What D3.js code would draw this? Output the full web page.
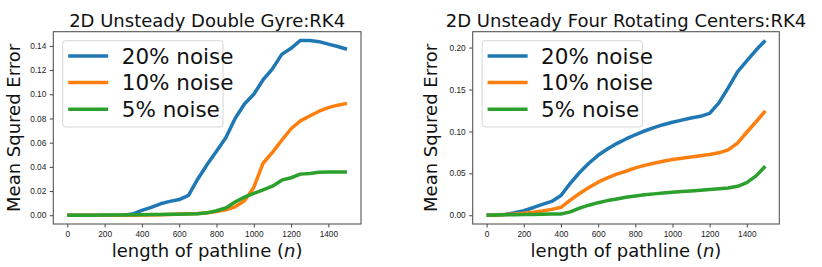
<!DOCTYPE html>
<html>
<head>
<meta charset="utf-8">
<script src="https://cdn.jsdelivr.net/npm/d3@7"></script>
<style>
  body { margin: 0; background: #fff; }
  svg { display: block; font-family: "DejaVu Sans", sans-serif; }
  .tick text { fill: #222; font-size: 8.3px; }
</style>
</head>
<body>
<svg id="chart" width="822" height="267"></svg>
<script>
// data: pathline length every 50 steps
let steps = d3.range(0, 1501, 50);
let seriesNames = ["20% noise", "10% noise", "5% noise"];
let seriesColors = ["#1f77b4", "#ff7f0e", "#2ca02c"];

let gyre20 = [0, 0, 0, 0, 0, 0, 0, 0.001, 0.004, 0.0065, 0.0095, 0.0115, 0.013, 0.0165, 0.030, 0.042,
  0.053, 0.064, 0.080, 0.092, 0.100, 0.112, 0.121, 0.133, 0.138, 0.1445, 0.1445, 0.1435, 0.1415, 0.1395, 0.1372];
let gyre10 = [0, 0, 0, 0, 0, 0, 0, 0.0001, 0.0002, 0.0003, 0.0005, 0.0007, 0.001, 0.0012, 0.0015, 0.002,
  0.003, 0.0045, 0.007, 0.012, 0.023, 0.043, 0.052, 0.062, 0.0715, 0.078, 0.082, 0.086, 0.089, 0.091, 0.0925];
let gyre5 = [0, 0, 0, 0.0001, 0.0002, 0.0002, 0.0003, 0.0004, 0.0005, 0.0006, 0.0007, 0.0008, 0.0009, 0.001, 0.0012, 0.002,
  0.0037, 0.006, 0.011, 0.015, 0.018, 0.021, 0.024, 0.029, 0.031, 0.034, 0.0345, 0.0355, 0.0357, 0.0357, 0.0357];

let four20 = [0, 0.0003, 0.001, 0.003, 0.0055, 0.009, 0.013, 0.0165, 0.0235, 0.038, 0.051, 0.062, 0.0715, 0.079, 0.0855, 0.091,
  0.096, 0.1005, 0.1045, 0.108, 0.111, 0.1135, 0.116, 0.118, 0.1215, 0.134, 0.152, 0.171, 0.184, 0.197, 0.2085];
let four10 = [0, 0.0003, 0.0008, 0.0015, 0.0025, 0.0035, 0.005, 0.007, 0.0095, 0.018, 0.026, 0.033, 0.0395, 0.0445, 0.049, 0.0525,
  0.0565, 0.0595, 0.062, 0.0645, 0.0665, 0.068, 0.0695, 0.071, 0.0725, 0.0745, 0.078, 0.086, 0.099, 0.1115, 0.1245];
let four5 = [0, 0.0003, 0.0005, 0.0007, 0.0009, 0.001, 0.0012, 0.0014, 0.0016, 0.004, 0.0085, 0.012, 0.015, 0.0175, 0.0195, 0.0215,
  0.023, 0.0245, 0.0255, 0.0265, 0.0275, 0.0283, 0.029, 0.0298, 0.0307, 0.0315, 0.0325, 0.0345, 0.039, 0.047, 0.0585];

let xTicks = [0, 200, 400, 600, 800, 1000, 1200, 1400];
let gyreYTicks = [0, 0.02, 0.04, 0.06, 0.08, 0.10, 0.12, 0.14];
let fourYTicks = [0, 0.05, 0.10, 0.15, 0.20];

let svg = d3.select("#chart");

drawPanel({
  left: 53.3, top: 31.7, width: 307.7, height: 192.3,
  title: "2D Unsteady Double Gyre:RK4",
  series: [gyre20, gyre10, gyre5],
  yTicks: gyreYTicks, yLabelX: 19.7
});

drawPanel({
  left: 472.7, top: 31.7, width: 306.6, height: 192.3,
  title: "2D Unsteady Four Rotating Centers:RK4",
  series: [four20, four10, four5],
  yTicks: fourYTicks, yLabelX: 437.3
});

function drawPanel(p){
  let allVals = p.series.flat();
  let yMax = d3.max(allVals);
  let yPad = yMax * 0.05;

  let x = d3.scaleLinear().domain([-75, 1575]).range([0, p.width]);
  let y = d3.scaleLinear().domain([-yPad, yMax + yPad]).range([p.height, 0]);

  let g = svg.append("g").attr("transform", `translate(${p.left},${p.top})`);

  // axes
  g.append("g")
    .attr("transform", `translate(0,${p.height})`)
    .call(d3.axisBottom(x).tickValues(xTicks).tickSize(3.5).tickPadding(3.5).tickFormat(d3.format("d")))
    .call(a => a.select(".domain").remove());
  g.append("g")
    .call(d3.axisLeft(y).tickValues(p.yTicks).tickSize(3.5).tickPadding(3.5).tickFormat(d3.format(".2f")))
    .call(a => a.select(".domain").remove());
  g.selectAll(".tick line").attr("stroke", "#444");

  // lines
  let line = d3.line()
    .x((d, i) => x(steps[i]))
    .y(d => y(d));

  g.selectAll(".series")
    .data(p.series)
    .enter()
    .append("path")
    .attr("class", "series")
    .attr("fill", "none")
    .attr("stroke", (d, i) => seriesColors[i])
    .attr("stroke-width", 3.5)
    .attr("stroke-linejoin", "round")
    .attr("d", line);

  // frame
  g.append("rect")
    .attr("width", p.width).attr("height", p.height)
    .attr("fill", "none").attr("stroke", "#555").attr("stroke-width", 1.1);

  // legend
  let lg = g.append("g").attr("transform", "translate(9.4,9)");
  lg.append("rect")
    .attr("width", 160.3).attr("height", 86.3).attr("rx", 3)
    .attr("fill", "#fff").attr("fill-opacity", 0.8)
    .attr("stroke", "#d6d6d6").attr("stroke-width", 1);
  seriesNames.forEach(function(name, i){
    let ry = 15.3 + i * 26.6;
    lg.append("line")
      .attr("x1", 5.5).attr("x2", 45.5).attr("y1", ry).attr("y2", ry)
      .attr("stroke", seriesColors[i]).attr("stroke-width", 3.5);
    lg.append("text")
      .attr("x", 59).attr("y", ry).attr("dy", "0.35em")
      .attr("font-size", 21.5).attr("fill", "#111")
      .text(name);
  });

  // title and labels
  svg.append("text")
    .attr("x", p.left + p.width / 2).attr("y", 26.7)
    .attr("text-anchor", "middle").attr("font-size", 18).attr("fill", "#111")
    .text(p.title);

  let xl = svg.append("text")
    .attr("x", p.left + p.width / 2 + 0).attr("y", 257.3)
    .attr("text-anchor", "middle").attr("font-size", 18).attr("fill", "#111");
  xl.append("tspan").text("length of pathline (");
  xl.append("tspan").attr("font-style", "italic").text("n");
  xl.append("tspan").text(")");

  svg.append("text")
    .attr("transform", `translate(${p.yLabelX},${p.top + p.height / 2}) rotate(-90)`)
    .attr("text-anchor", "middle").attr("font-size", 18).attr("fill", "#111")
    .text("Mean Squred Error");
}
</script>
</body>
</html>
